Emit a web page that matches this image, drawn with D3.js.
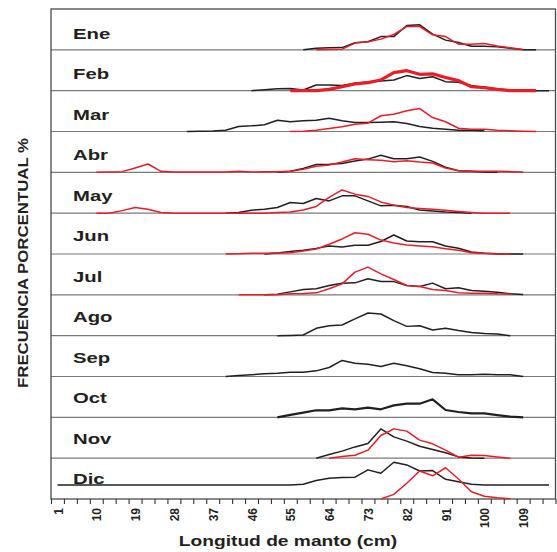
<!DOCTYPE html>
<html>
<head>
<meta charset="utf-8">
<script src="https://cdn.jsdelivr.net/npm/d3@7"></script>
<style>
  html, body { margin: 0; padding: 0; background: #fff; }
  svg { display: block; font-family: "Liberation Sans", Arial, sans-serif; }
</style>
</head>
<body>
<svg id="chart" width="557" height="552"></svg>
<script>
// Meses del año
const meses = ["Ene","Feb","Mar","Abr","May","Jun","Jul","Ago","Sep","Oct","Nov","Dic"];

// Marca de clase (cm) del primer intervalo de cada serie; intervalos de 3 cm
const inicioNegro = [59.5, 47.5, 32.5, 53.5, 41.5, 50.5, 50.5, 53.5, 41.5, 53.5, 62.5, 2.5];
const inicioRojo  = [62.5, 56.5, 56.5, 11.5, 11.5, 41.5, 44.5, null, null, null, 65.5, 77.5];

// Frecuencia porcentual, serie negra
const frecNegro = [
  [0,1.2,1.4,1.6,5.0,5.7,9.4,9.4,17.3,17.8,11.2,6.9,5.2,2.6,2.6,2.1,1.2,0,0],
  [0,0.7,1.4,1.6,0.5,4.0,4.0,3.6,5.2,6.2,6.9,7.6,10.7,8.7,9.9,6.4,5.9,3.6,2.3,1.2,0.5,0.2,0,0],
  [0,0.2,0.4,0.9,3.6,4.0,4.8,8.0,6.9,7.6,8.0,9.4,7.6,6.4,6.4,6.6,6.9,5.7,3.6,2.3,1.6,0.9,0.9,0.5],
  [0,0.7,2.8,5.5,5.7,6.2,8.0,9.4,12.1,9.7,9.7,10.9,7.8,3.6,1.2,0.7,0.2,0],
  [0,0.5,2.1,2.8,4.0,7.6,6.9,10.4,8.7,12.3,12.3,8.7,5.2,5.7,4.8,2.3,1.6,0.9,0.5,0],
  [0,0.7,1.8,2.6,4.0,5.7,5.0,6.2,6.2,8.9,13.5,9.2,8.7,8.7,5.7,4.1,1.4,0.5,0,0,0],
  [0,0.5,2.1,3.8,4.3,6.6,8.3,8.5,11.4,9.4,9.4,6.6,5.9,8.3,4.3,5.0,3.1,2.6,1.9,0.7,0.2],
  [0,0.2,0.5,5.2,7.1,7.6,11.9,16.1,15.4,10.7,6.6,7.1,4.0,5.2,3.6,2.3,1.6,1.2,0],
  [0,0.7,1.2,1.9,2.3,3.1,3.1,4.0,6.4,11.4,9.4,8.7,7.1,9.4,7.6,5.5,2.8,2.3,1.2,1.2,1.6,1.2,1.2,0],
  [0,1.8,3.3,5.0,5.0,6.4,5.7,6.9,5.7,8.5,9.7,9.7,12.8,5.2,3.8,2.8,2.8,1.6,0.5,0],
  [0,2.6,5.0,8.0,10.4,20.8,15.1,12.1,8.5,6.2,3.8,0.9,0.2,0],
  [0,0,0,0,0,0,0,0,0,0,0,0,0,0,0,0,0,0,0,0.5,3.1,4.8,5.2,5.5,10.7,8.3,16.1,14.2,9.9,10.2,4.0,2.3,0.5,0,0,0,0,0,0]
];

// Frecuencia porcentual, serie roja
const frecRojo = [
  [0,0.2,0.5,4.8,5.7,7.6,10.9,16.5,16.5,10.7,9.4,4.0,4.0,4.5,2.8,1.4,0.2],
  [0,0,0,0.9,2.8,4.8,5.7,7.6,12.8,14.2,11.6,11.9,9.4,7.1,2.8,2.1,0.9,0,0,0],
  [0,0.2,0.9,2.1,3.3,5.2,5.9,11.2,12.3,14.7,16.3,9.9,6.9,2.3,1.6,1.6,0.9,0.5,0.2,0],
  [0,0.2,0.5,3.1,5.9,0.7,0.2,0.2,0.2,0.2,0.2,0.7,0.2,0.5,0.5,0.7,2.1,4.3,5.2,7.3,9.7,9.0,8.5,7.6,8.3,7.3,6.6,3.1,1.2,0.7,0.7,0.7,0.5,0.2],
  [0,0,1.8,4.0,2.8,0.5,0,0,0,0,0,0,0,0,0.5,0.9,2.3,4.8,11.2,16.5,13.5,11.9,8.0,5.7,4.0,3.3,2.8,2.1,1.2,0.5,0,0,0],
  [0,0.2,0.5,0.5,0.7,0.9,2.1,3.6,6.9,10.7,15.1,14.0,9.9,7.8,6.4,5.7,5.2,3.8,2.6,0.9,0.5,0.2,0],
  [0,0,0,0,0.7,0.9,1.4,4.3,7.8,16.1,19.7,14.9,10.9,6.6,5.9,3.8,3.1,1.4,1.2,1.2,0.7,0.5],
  null, null, null,
  [0,1.2,2.1,5.7,16.1,20.8,19.2,12.8,10.2,5.7,0.7,2.1,1.9,0.9,0],
  [0,3.3,11.2,19.9,16.5,22.2,14.2,5.2,1.9,0.9,0.2]
];

// Etiquetas del eje horizontal
const marcasEje = d3.range(1, 119, 3);
const etiquetasEje = [1, 10, 19, 28, 37, 46, 55, 64, 73, 82, 91, 100, 109];

const svg = d3.select("#chart");
const izq = 51, der = 555.5, arriba = 9, abajo = 499;
const altoPanel = (abajo - arriba) / meses.length;
const paso = 3;

const x = d3.scaleLinear().domain([1, 118]).range([izq, der]);
// Escala vertical de cada panel (porcentaje)
const yPanel = (i, minimo = 0) => d3.scaleLinear()
  .domain([minimo, minimo + 29])
  .range([arriba + (i + 1) * altoPanel, arriba + i * altoPanel]);
// Línea base del nombre de cada mes
const yNombre = d3.scaleLinear().domain([0, meses.length - 1]).range([39, 484]);

const ROJO = "#ec1c24", NEGRO = "#231f20";
const grosorRojo = i => (i === 1 ? 3.2 : 1.5);
const grosorNegro = i => (i === 9 ? 2.2 : 1.5);

// Separadores entre paneles
svg.append("g").selectAll("line")
  .data(d3.range(1, meses.length))
  .join("line")
  .attr("x1", izq).attr("x2", der)
  .attr("y1", i => arriba + i * altoPanel)
  .attr("y2", i => arriba + i * altoPanel)
  .attr("stroke", "#7a7a7a").attr("stroke-width", 1.2);

// Marco exterior
svg.append("rect")
  .attr("x", izq).attr("y", arriba)
  .attr("width", der - izq).attr("height", abajo - arriba)
  .attr("fill", "none").attr("stroke", "#4a4a4a").attr("stroke-width", 1.3);

const serie = (inicio, valores) => valores.map((v, k) => ({ l: inicio + k * paso, v }));

meses.forEach((mes, i) => {
  const g = svg.append("g");
  if (frecRojo[i]) {
    const y = yPanel(i);
    g.append("path")
      .datum(serie(inicioRojo[i], frecRojo[i]))
      .attr("fill", "none").attr("stroke", ROJO)
      .attr("stroke-width", grosorRojo(i)).attr("stroke-linejoin", "round")
      .attr("d", d3.line().x(d => x(d.l)).y(d => y(d.v)));
  }
  // En diciembre la serie negra usa un eje desplazado
  const yN = yPanel(i, i === 11 ? -10 : 0);
  g.insert("path", ":first-child")
    .datum(serie(inicioNegro[i], frecNegro[i]))
    .attr("fill", "none").attr("stroke", NEGRO)
    .attr("stroke-width", grosorNegro(i)).attr("stroke-linejoin", "round")
    .attr("d", d3.line().x(d => x(d.l)).y(d => yN(d.v)));

  svg.append("text")
    .attr("transform", `translate(73,${yNombre(i)}) scale(1.45,1)`)
    .attr("font-size", 14).attr("font-weight", "bold").attr("fill", "#231f20")
    .text(mes);
});

// Eje horizontal
const eje = svg.append("g")
  .attr("transform", `translate(0,${abajo})`)
  .call(d3.axisBottom(x).tickValues(marcasEje).tickSize(5).tickSizeOuter(0)
    .tickFormat(d => etiquetasEje.includes(d) ? d : ""));
eje.select(".domain").remove();
eje.selectAll(".tick line").attr("stroke", "#333").attr("stroke-width", 1.1);
eje.selectAll(".tick text")
  .attr("x", null).attr("y", null).attr("dy", null)
  .attr("transform", "translate(11,9) rotate(-90)")
  .attr("text-anchor", "end")
  .attr("font-size", 12).attr("font-weight", "bold")
  .attr("font-family", "'Liberation Sans', Arial, sans-serif")
  .attr("fill", "#231f20");

// Títulos de los ejes
svg.append("text")
  .attr("transform", "translate(288,546) scale(1.37,1)")
  .attr("text-anchor", "middle")
  .attr("font-size", 14).attr("font-weight", "bold").attr("fill", "#231f20")
  .text("Longitud de manto (cm)");

svg.append("text")
  .attr("transform", "translate(28,263) rotate(-90) scale(1.2,1)")
  .attr("text-anchor", "middle")
  .attr("font-size", 14).attr("font-weight", "bold").attr("fill", "#231f20")
  .text("FRECUENCIA PORCENTUAL %");
</script>
</body>
</html>
